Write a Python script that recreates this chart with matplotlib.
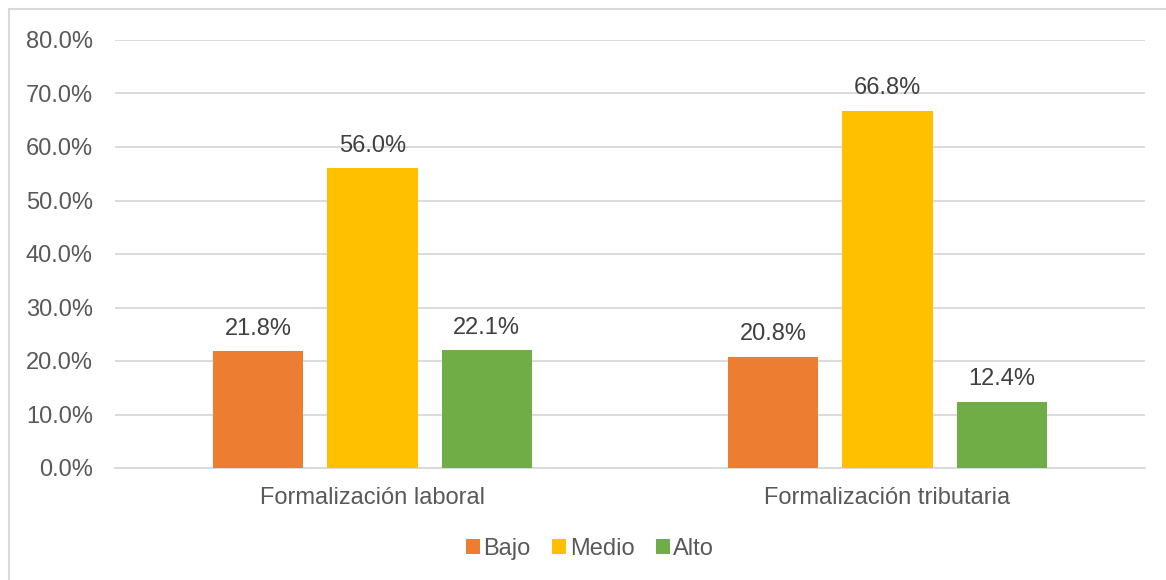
import matplotlib.pyplot as plt
from matplotlib.patches import Rectangle
import numpy as np

plt.rcParams['font.family'] = ['Liberation Sans', 'DejaVu Sans']

categorias = ["Formalización laboral", "Formalización tributaria"]
niveles = ["Bajo", "Medio", "Alto"]
bajo = [21.8, 20.8]
medio = [56.0, 66.8]
alto = [22.1, 12.4]
colores = ["#ED7D31", "#FFC000", "#70AD47"]

fig = plt.figure(figsize=(11.66, 5.8), dpi=100)
ax = fig.add_axes([115 / 1166, 1 - 468 / 580, 1030 / 1166, 428 / 580])

# marco del gráfico
fig.patches.append(Rectangle((9 / 1166, -0.05), 1.2, 1 - 9 / 580 + 0.05,
                             transform=fig.transFigure, fill=False,
                             edgecolor="#d9d9d9", linewidth=1.5))

x = np.arange(len(categorias))
ancho = 0.175
paso = 0.2215
for i, (serie, nombre) in enumerate(zip([bajo, medio, alto], niveles)):
    pos = x + (i - 1) * paso
    barras = ax.bar(pos, serie, width=ancho, color=colores[i], label=nombre, zorder=3)
    for b, v in zip(barras, serie):
        ax.text(b.get_x() + b.get_width() / 2, v + 2.1, f"{v:.1f}%",
                ha="center", va="bottom", fontsize=17, color="#404040")

ax.set_xlim(-0.5, 1.5)
ax.set_ylim(0, 80)
ax.set_yticks(range(0, 81, 10))
ax.set_yticklabels([f"{v:.1f}%" for v in range(0, 81, 10)])
ax.set_xticks(x)
ax.set_xticklabels(categorias)
ax.tick_params(axis="both", length=0, labelsize=17, colors="#595959")
ax.tick_params(axis="y", pad=16)
ax.tick_params(axis="x", pad=14)
ax.yaxis.grid(True, color="#d9d9d9", linewidth=1.3, zorder=0)
for s in ["top", "right", "left"]:
    ax.spines[s].set_visible(False)
ax.spines["bottom"].set_color("#d9d9d9")
ax.spines["bottom"].set_linewidth(1.3)

fig.legend(loc="center", bbox_to_anchor=(0.506, 1 - 549 / 580), ncol=3, frameon=False,
           fontsize=17, handlelength=0.6, handleheight=0.6, handletextpad=0.15,
           columnspacing=0.9, labelcolor="#595959")

fig.savefig("out.png", dpi=100)
